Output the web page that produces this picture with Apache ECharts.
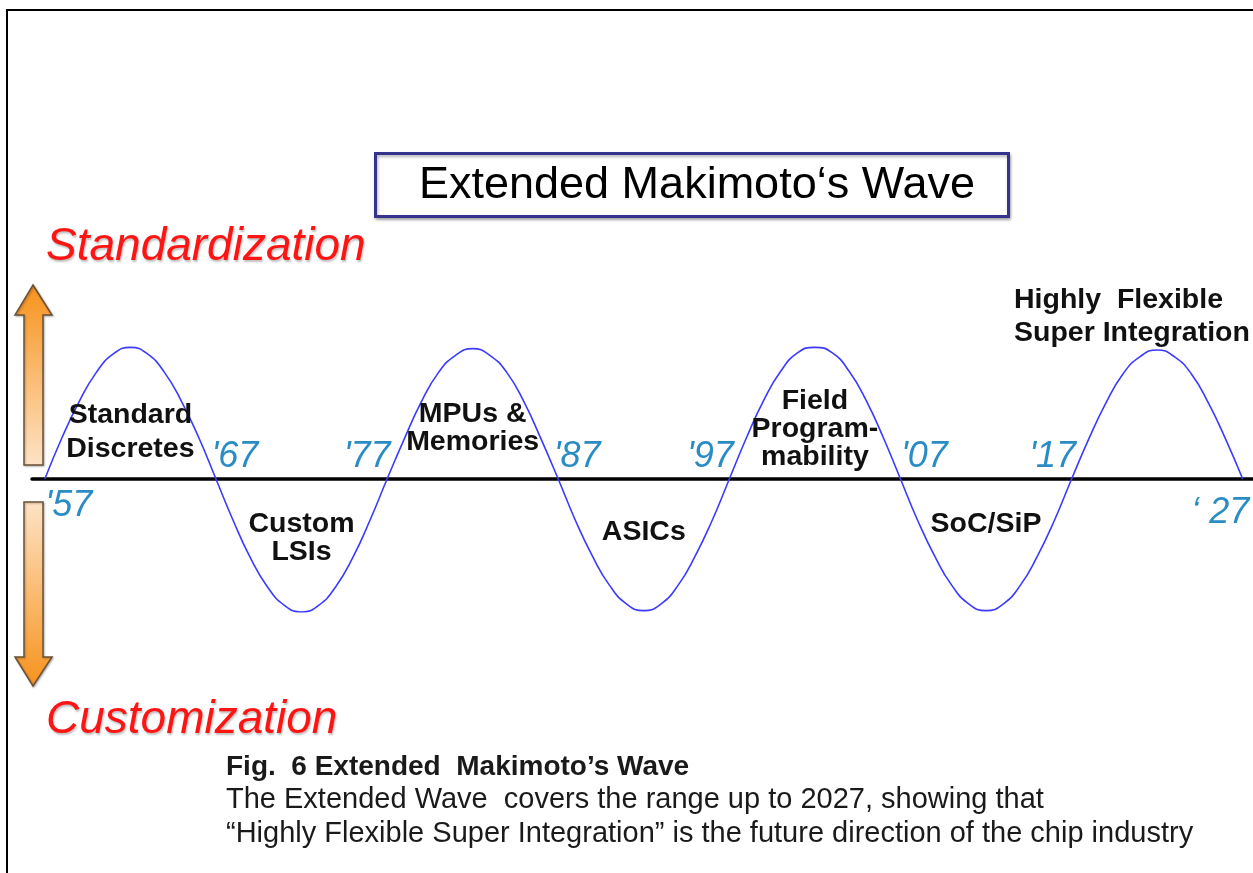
<!DOCTYPE html>
<html>
<head>
<meta charset="utf-8">
<script src="https://cdn.jsdelivr.net/npm/echarts@6/dist/echarts.min.js"></script>
<style>
html,body{margin:0;padding:0;background:#fff;}
#chart{width:1253px;height:873px;}
</style>
</head>
<body>
<div id="chart"></div>
<script>
// ---- data ----
const waveYears = [
  1957,1958,1959,1960,1961,1962,1963,1964,1965,1966,
  1967,1968,1969,1970,1971,1972,1973,1974,1975,1976,
  1977,1978,1979,1980,1981,1982,1983,1984,1985,1986,
  1987,1988,1989,1990,1991,1992,1993,1994,1995,1996,
  1997,1998,1999,2000,2001,2002,2003,2004,2005,2006,
  2007,2008,2009,2010,2011,2012,2013,2014,2015,2016,
  2017,2018,2019,2020,2021,2022,2023,2024,2025,2026,
  2027
];
const waveValues = [
  0, 0.31, 0.58, 0.80, 0.94, 0.99, 0.94, 0.80, 0.58, 0.31,
  0, -0.31, -0.59, -0.81, -0.95, -1.00, -0.95, -0.81, -0.59, -0.31,
  0, 0.30, 0.58, 0.80, 0.93, 0.98, 0.93, 0.80, 0.58, 0.30,
  0, -0.31, -0.58, -0.80, -0.94, -0.99, -0.94, -0.80, -0.58, -0.31,
  0, 0.31, 0.59, 0.81, 0.95, 0.99, 0.95, 0.81, 0.59, 0.31,
  0, -0.31, -0.58, -0.80, -0.94, -0.99, -0.94, -0.80, -0.58, -0.31,
  0, 0.30, 0.57, 0.79, 0.92, 0.97, 0.92, 0.79, 0.57, 0.30,
  0
];
const tickYears = [1957, 1967, 1977, 1987, 1997, 2007, 2017, 2027];
const tickLabels = ["'57", "'67", "'77", "'87", "'97", "'07", "'17", "\u2018 27"];
const eraNames = ["Standard\nDiscretes", "Custom\nLSIs", "MPUs &\nMemories", "ASICs",
                  "Field\nProgram-\nmability", "SoC/SiP", "Highly  Flexible\nSuper Integration"];
const eraYears = [1962, 1972, 1982, 1992, 2002, 2012, 2020.5];
const chartTitle = "Extended Makimoto\u2018s Wave";
const upLabel = "Standardization";
const downLabel = "Customization";
const captionLines = [
  "Fig.  6 Extended  Makimoto\u2019s Wave",
  "The Extended Wave  covers the range up to 2027, showing that",
  "\u201CHighly Flexible Super Integration\u201D is the future direction of the chip industry"
];

// ---- layout / style (not data) ----
const FONT = "'Liberation Sans', Arial, sans-serif";
const eraLayout = [
  {level: 0.355, lh: 34},
  {level: -0.445, lh: 28},
  {level: 0.38, lh: 28},
  {level: -0.40, lh: 28},
  {level: 0.375, lh: 28},
  {level: -0.34, lh: 28},
  {level: 1.215, lh: 33, align: 'left', off: [-117, 0]}
];
const tickLayout = [
  {align:'left',  off:[1, 27]},
  {align:'left',  off:[-4, -22]},
  {align:'right', off:[4, -22]},
  {align:'left',  off:[-4, -22]},
  {align:'right', off:[5, -22]},
  {align:'left',  off:[1, -22]},
  {align:'right', off:[5, -22]},
  {align:'right', off:[7, 34]}
];

const chart = echarts.init(document.getElementById('chart'), null, {renderer:'canvas'});

const waveData = waveYears.map((y, i) => [y, waveValues[i]]);
const tickData = tickYears.map((y, i) => ({
  value: [y, 0],
  name: tickLabels[i],
  label: {
    position: tickLayout[i].off,
    align: tickLayout[i].align
  }
}));
const eraData = eraYears.map((y, i) => {
  const L = eraLayout[i];
  const label = { lineHeight: L.lh };
  if (L.align) { label.align = L.align; label.position = L.off; }
  return { value: [y, L.level], name: eraNames[i], label };
});

function arrowGrad(topColor, bottomColor) {
  return new echarts.graphic.LinearGradient(0, 0, 0, 1, [
    {offset: 0, color: topColor}, {offset: 1, color: bottomColor}
  ]);
}

const bigRed = { fontFamily: FONT, fontStyle: 'italic', fontWeight: 'normal', fontSize: 46,
  lineHeight: 52, color: '#ff1414', textShadowColor: 'rgba(0,0,0,0.25)', textShadowBlur: 2,
  textShadowOffsetX: 1, textShadowOffsetY: 2 };

const option = {
  backgroundColor: '#ffffff',
  animation: false,
  grid: { left: 32, right: 0, top: 346, bottom: 261, containLabel: false },
  xAxis: {
    type: 'value', min: 1956.25, max: 2027.6,
    axisLine: { show: true, onZero: true, lineStyle: { color: '#000', width: 3.5 } },
    axisTick: { show: false }, axisLabel: { show: false }, splitLine: { show: false }
  },
  yAxis: {
    type: 'value', min: -1, max: 1, show: false,
    splitLine: { show: false }
  },
  title: [
    { text: upLabel, left: 41, top: 216, textStyle: bigRed },
    { text: downLabel, left: 41, top: 689, textStyle: bigRed },
    {
      text: captionLines[0], left: 221, top: 746,
      textStyle: { fontFamily: FONT, fontWeight: 'bold', fontSize: 28, lineHeight: 32, color: '#1a1a1a' }
    },
    {
      text: captionLines[1], left: 221, top: 779,
      textStyle: { fontFamily: FONT, fontWeight: 'normal', fontSize: 29, lineHeight: 32, color: '#1a1a1a' }
    },
    {
      text: captionLines[2], left: 221, top: 813,
      textStyle: { fontFamily: FONT, fontWeight: 'normal', fontSize: 29, lineHeight: 32, color: '#1a1a1a' }
    }
  ],
  graphic: [
    { type: 'polyline', silent: true, shape: { points: [[7, 873], [7, 10], [1253, 10]] },
      style: { stroke: '#000', lineWidth: 2, fill: null } },
    { type: 'rect', silent: true, shape: { x: 375.5, y: 153.5, width: 633, height: 63 },
      style: { fill: '#fff', stroke: '#34348f', lineWidth: 3,
        shadowColor: 'rgba(0,0,0,0.3)', shadowBlur: 3, shadowOffsetX: 1, shadowOffsetY: 2 } },
    { type: 'text', silent: true, x: 697, y: 186,
      style: { text: chartTitle, fontFamily: FONT, fontSize: 45, fill: '#000',
        align: 'center', verticalAlign: 'middle' } },
    { type: 'polygon', silent: true,
      shape: { points: [[33, 285], [52, 315], [43, 315], [43, 465], [24, 465], [24, 315], [15, 315]] },
      style: { fill: arrowGrad('#f7921c', '#fde3c6'), stroke: '#6b5236', lineWidth: 1.5,
        shadowColor: 'rgba(0,0,0,0.25)', shadowBlur: 2, shadowOffsetX: 1, shadowOffsetY: 1 } },
    { type: 'polygon', silent: true,
      shape: { points: [[24, 502], [43, 502], [43, 657], [52, 657], [33, 686], [15, 657], [24, 657]] },
      style: { fill: arrowGrad('#fde3c6', '#f7921c'), stroke: '#6b5236', lineWidth: 1.5,
        shadowColor: 'rgba(0,0,0,0.25)', shadowBlur: 2, shadowOffsetX: 1, shadowOffsetY: 1 } }
  ],
  series: [
    {
      name: 'wave', type: 'line', data: waveData, smooth: 0.5, symbol: 'none', silent: true,
      lineStyle: { color: '#3b3bff', width: 1.6 }, z: 3
    },
    {
      name: 'years', type: 'scatter', data: tickData, symbolSize: 1, silent: true, clip: false,
      itemStyle: { color: 'rgba(0,0,0,0)', opacity: 1 }, z: 4,
      label: {
        show: true, formatter: p => p.name, verticalAlign: 'middle', opacity: 1,
        fontFamily: FONT, fontStyle: 'italic', fontSize: 36, color: '#2a8cc4'
      }
    },
    {
      name: 'eras', type: 'scatter', data: eraData, symbolSize: 1, silent: true, clip: false,
      itemStyle: { color: 'rgba(0,0,0,0)', opacity: 1 }, z: 5,
      label: {
        show: true, position: 'inside', formatter: p => p.name, align: 'center', verticalAlign: 'middle',
        opacity: 1, fontFamily: FONT, fontWeight: 'bold', fontSize: 28.5, color: '#111'
      }
    }
  ]
};
chart.setOption(option);
</script>
</body>
</html>
